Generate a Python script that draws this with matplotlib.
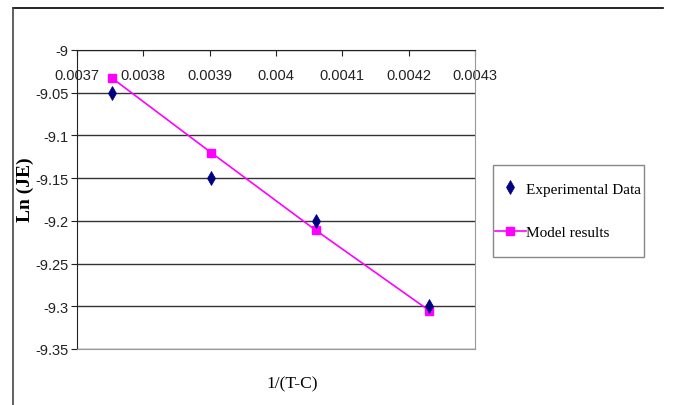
import matplotlib.pyplot as plt
from matplotlib import font_manager
from matplotlib.lines import Line2D
from matplotlib.patches import Rectangle

# data
inv_t = [0.003753, 0.003902, 0.004060, 0.004231]
ln_je_exp = [-9.050, -9.150, -9.200, -9.300]
ln_je_model = [-9.033, -9.120, -9.211, -9.305]

x_ticks = [0.0037, 0.0038, 0.0039, 0.0040, 0.0041, 0.0042, 0.0043]
x_tick_labels = ["0.0037", "0.0038", "0.0039", "0.004", "0.0041", "0.0042", "0.0043"]
y_ticks = [-9.0, -9.05, -9.1, -9.15, -9.2, -9.25, -9.3, -9.35]
y_tick_labels = ["-9", "-9.05", "-9.1", "-9.15", "-9.2", "-9.25", "-9.3", "-9.35"]

installed = {f.name for f in font_manager.fontManager.ttflist}
if "Liberation Sans Narrow" in installed:
    tick_family, tick_size = "Liberation Sans Narrow", 12
else:
    tick_family, tick_size = "Liberation Sans", 10.5

W, H = 677, 406
fig = plt.figure(figsize=(W / 100, H / 100), dpi=100)

# chart area border (top and left visible)
fig.add_artist(Line2D([13 / W, 663 / W], [1 - 9 / H, 1 - 9 / H], color="black", lw=1.2))
fig.add_artist(Line2D([13 / W, 13 / W], [1 - 9 / H, 0], color="#444444", lw=1.2))

ax = fig.add_axes([77 / W, 1 - 350 / H, (475 - 77) / W, (350 - 51) / H])

ax.plot(inv_t, ln_je_model, color="#ff00ff", lw=1.2, marker="s", markersize=6,
        label="Model results", zorder=3)
ax.plot(inv_t, ln_je_exp, linestyle="none", color="#000080", marker="d", markersize=7,
        markeredgewidth=0.5, label="Experimental Data", zorder=4)

ax.set_xlim(0.0037, 0.0043)
ax.set_ylim(-9.35, -9.0)
ax.set_xticks(x_ticks)
ax.set_xticklabels(x_tick_labels)
ax.set_yticks(y_ticks)
ax.set_yticklabels(y_tick_labels)

ax.tick_params(axis="both", labelfontfamily=tick_family, labelsize=tick_size,
               colors="#222222")
ax.tick_params(axis="x", top=True, bottom=False, labeltop=True, labelbottom=False,
               direction="in", length=4, pad=-23)
ax.tick_params(axis="y", direction="out", length=4, pad=2)

ax.yaxis.grid(True, color="#333333", lw=1.0)
ax.set_axisbelow(True)
ax.spines["top"].set_color("#222222")
ax.spines["left"].set_color("#222222")
ax.spines["right"].set_color("#999999")
ax.spines["bottom"].set_color("#999999")

fig.text(292 / W, 1 - 384 / H, "1/(T-C)", ha="center", va="center",
         family="Liberation Serif", fontsize=12.5)
fig.text(25 / W, 1 - 190 / H, "Ln (JE)", ha="center", va="center", rotation=90,
         family="Liberation Serif", fontsize=14, fontweight="bold")

# legend box drawn separately so its padding can match
fig.add_artist(Rectangle((493 / W, 1 - 258 / H), (644 - 493) / W, (258 - 166) / H,
                         transform=fig.transFigure, facecolor="white",
                         edgecolor="#888888", lw=1.0))
handles, labels = ax.get_legend_handles_labels()
leg = fig.legend(handles[::-1], labels[::-1], loc="upper left",
                 bbox_to_anchor=(495 / W, 1 - 183 / H), bbox_transform=fig.transFigure,
                 prop={"family": "Liberation Serif", "size": 11},
                 frameon=False, handlelength=2.0, handletextpad=0.05,
                 labelspacing=1.95, borderpad=0, borderaxespad=0)

fig.savefig("out.png", dpi=100)
